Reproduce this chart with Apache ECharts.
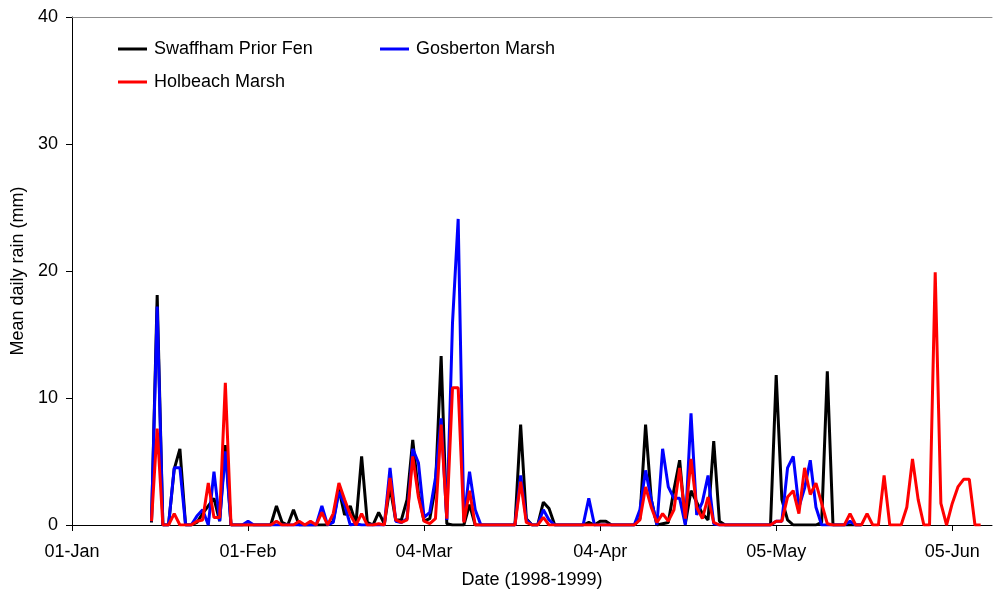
<!DOCTYPE html>
<html>
<head>
<meta charset="utf-8">
<title>Mean daily rain</title>
<script src="https://cdn.jsdelivr.net/npm/echarts@6/dist/echarts.min.js"></script>
<style>
  html, body { margin: 0; padding: 0; background: #fff; }
  #chart { width: 993px; height: 596px; }
</style>
</head>
<body>
<div id="chart"></div>
<script>
// Days are counted from 1 January (day 0).
const tickDays = [0, 31, 62, 93, 124, 155];
const tickLabels = ['01-Jan', '01-Feb', '04-Mar', '04-Apr', '05-May', '05-Jun'];
const yTicks = [0, 10, 20, 30, 40];

// First recorded day for every site: 15 January.
const firstDay = 14;

// Mean daily rain (mm), one value per day from firstDay.
const swaffham = [
  0.2, 18.1, 0, 0, 4.4, 6.0, 0, 0, 0.2, 0.9,
  1.5, 2.1, 0.3, 6.3, 0, 0, 0, 0, 0, 0,
  0, 0, 1.5, 0.2, 0, 1.2, 0, 0, 0, 0,
  0, 0, 0.3, 2.8, 0.8, 1.5, 0.1, 5.4, 0.2, 0,
  1.0, 0.1, 3.0, 0.4, 0.4, 2.0, 6.7, 2.5, 0.3, 0.5,
  3.0, 13.3, 0.1, 0, 0, 0, 1.6, 0, 0, 0,
  0, 0, 0, 0, 0, 7.9, 0.5, 0, 0, 1.8,
  1.3, 0, 0, 0, 0, 0, 0, 0.2, 0, 0.3,
  0.3, 0, 0, 0, 0, 0, 0.5, 7.9, 2.0, 0,
  0.1, 0.2, 2.8, 5.1, 0.1, 2.7, 1.8, 0.9, 0.4, 6.6,
  0.3, 0, 0, 0, 0, 0, 0, 0, 0, 0,
  11.8, 2.0, 0.4, 0, 0, 0, 0, 0, 0.2, 12.1,
  0, 0, 0, 0, 0, 0
];

const gosberton = [
  0.3, 17.2, 0, 0, 4.5, 4.5, 0, 0, 0.7, 1.2,
  0, 4.2, 0.3, 5.8, 0, 0, 0, 0.3, 0, 0,
  0, 0, 0, 0, 0, 0, 0, 0, 0, 0,
  1.5, 0, 0.2, 2.6, 1.6, 0, 0.1, 0, 0, 0,
  0, 0, 4.5, 0.3, 0.2, 0.5, 6.0, 4.9, 0.6, 1.0,
  3.7, 8.4, 0.4, 15.9, 24.1, 0.3, 4.2, 1.2, 0, 0,
  0, 0, 0, 0, 0, 3.9, 0.4, 0, 0, 1.2,
  0.4, 0, 0, 0, 0, 0, 0, 2.1, 0, 0,
  0, 0, 0, 0, 0, 0, 1.2, 4.3, 2.0, 0,
  6.0, 3.0, 2.1, 2.1, 0, 8.8, 0.8, 1.8, 3.9, 0.1,
  0, 0, 0, 0, 0, 0, 0, 0, 0, 0,
  0.3, 0.3, 4.5, 5.4, 1.4, 2.9, 5.1, 1.4, 0, 0,
  0, 0, 0, 0.3, 0, 0
];

const holbeach = [
  0.3, 7.6, 0, 0, 0.9, 0, 0, 0, 0.3, 0.4,
  3.3, 0.6, 0.6, 11.2, 0, 0, 0, 0, 0, 0,
  0, 0, 0.3, 0, 0, 0, 0.3, 0, 0.3, 0,
  1.0, 0, 0.9, 3.3, 2.0, 0.8, 0, 0.9, 0, 0,
  0.1, 0, 3.7, 0.4, 0.2, 0.4, 5.4, 2.2, 0.3, 0.1,
  0.5, 7.9, 0.5, 10.8, 10.8, 0.2, 2.7, 0, 0, 0,
  0, 0, 0, 0, 0, 3.4, 0.2, 0, 0, 0.6,
  0, 0, 0, 0, 0, 0, 0, 0, 0, 0,
  0, 0, 0, 0, 0, 0, 0.4, 3.0, 1.4, 0.2,
  0.9, 0.3, 1.2, 4.5, 0.5, 5.2, 1.4, 0.5, 2.2, 0.2,
  0, 0, 0, 0, 0, 0, 0, 0, 0, 0,
  0.3, 0.3, 2.2, 2.7, 0.9, 4.5, 2.4, 3.3, 1.7, 0.1,
  0, 0, 0, 0.9, 0, 0, 0.9, 0, 0, 3.9,
  0, 0, 0, 1.4, 5.2, 2.0, 0, 0, 19.9, 1.7,
  0, 1.7, 3.0, 3.6, 3.6, 0, 0
];

const siteNames = ['Swaffham Prior Fen', 'Gosberton Marsh', 'Holbeach Marsh'];
const siteColors = ['#000000', '#0000ff', '#ff0000'];

function toPoints(values) {
  return values.map((v, i) => [firstDay + i, v]);
}

const font = '"Liberation Sans", Arial, sans-serif';
const chart = echarts.init(document.getElementById('chart'), null, { renderer: 'canvas' });

function legendFor(name, left, top) {
  return {
    data: [name],
    left: left,
    top: top,
    padding: 0,
    icon: 'rect',
    itemWidth: 29,
    itemHeight: 3,
    textStyle: { fontFamily: font, fontSize: 18, color: '#000', padding: [0, 0, 0, 2] },
    selectedMode: false
  };
}

chart.setOption({
  animation: false,
  backgroundColor: '#fff',
  textStyle: { fontFamily: font },
  grid: { left: 72, right: 1, top: 17, bottom: 71, containLabel: false },
  legend: [
    legendFor(siteNames[0], 118, 40),
    legendFor(siteNames[1], 380, 40),
    legendFor(siteNames[2], 118, 73)
  ],
  xAxis: [
    {
      type: 'value',
      min: 0,
      max: 162,
      name: 'Date (1998-1999)',
      nameLocation: 'middle',
      nameGap: 46,
      nameTextStyle: { fontFamily: font, fontSize: 18, color: '#000' },
      axisLine: { show: true, onZero: false, lineStyle: { color: '#000', width: 1 } },
      axisTick: { show: true, inside: false, length: 6, customValues: tickDays, lineStyle: { color: '#000' } },
      axisLabel: {
        show: true,
        customValues: tickDays,
        margin: 18,
        fontFamily: font,
        fontSize: 18,
        color: '#000',
        formatter: (v) => {
          const i = tickDays.indexOf(v);
          return i >= 0 ? tickLabels[i] : '';
        }
      },
      splitLine: { show: false }
    },
    {
      type: 'value',
      position: 'top',
      min: 0,
      max: 162,
      axisLine: { show: true, onZero: false, lineStyle: { color: '#8c8c8c', width: 1 } },
      axisTick: { show: false },
      axisLabel: { show: false },
      splitLine: { show: false }
    }
  ],
  yAxis: {
    type: 'value',
    min: 0,
    max: 40,
    interval: 10,
    name: 'Mean daily rain (mm)',
    nameLocation: 'middle',
    nameGap: 44,
    nameRotate: 90,
    nameTextStyle: { fontFamily: font, fontSize: 18, color: '#000' },
    axisLine: { show: true, lineStyle: { color: '#000', width: 1 } },
    axisTick: { show: true, inside: false, length: 6, lineStyle: { color: '#000' } },
    axisLabel: {
      margin: 14,
      fontFamily: font,
      fontSize: 18,
      color: '#000',
      formatter: (v) => (yTicks.includes(v) ? String(v) : '')
    },
    splitLine: { show: false }
  },
  series: [swaffham, gosberton, holbeach].map((vals, k) => ({
    name: siteNames[k],
    type: 'line',
    xAxisIndex: 0,
    data: toPoints(vals),
    showSymbol: false,
    symbol: 'none',
    smooth: false,
    color: siteColors[k],
    lineStyle: { color: siteColors[k], width: 3 },
    emphasis: { disabled: true },
    z: 2 + k
  }))
});
</script>
</body>
</html>
